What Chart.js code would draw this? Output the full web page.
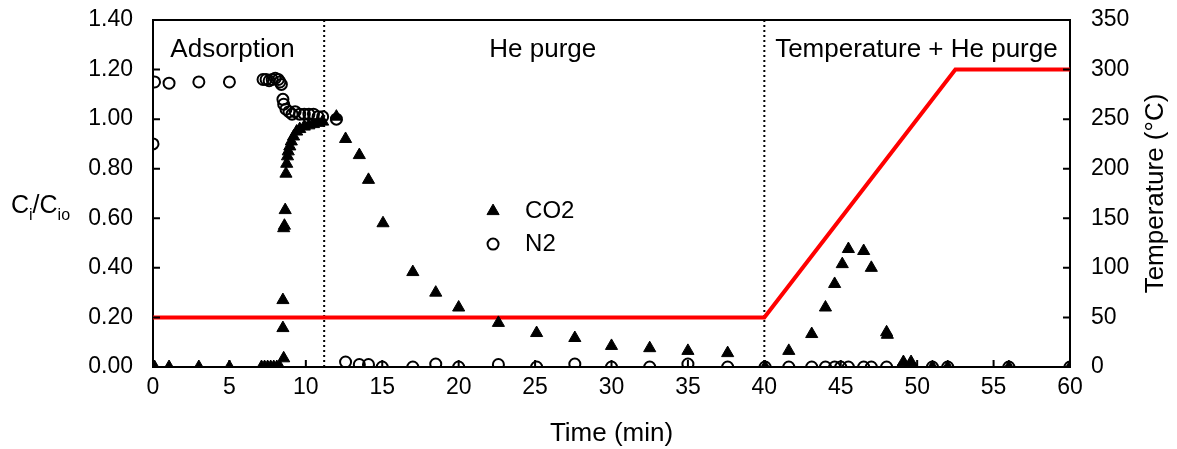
<!DOCTYPE html>
<html>
<head>
<meta charset="utf-8">
<script src="https://cdn.jsdelivr.net/npm/chart.js@4.4.0/dist/chart.umd.min.js"></script>
<style>
  body { margin: 0; background: #fff; }
  #wrap { width: 1177px; height: 449px; }
</style>
</head>
<body>
<div id="wrap"><canvas id="breakthroughChart"></canvas></div>
<script>
// --- Data ---
const co2Time = [0, 0.1, 1.05, 3, 5, 7.1, 7.3, 7.5, 7.7, 7.9, 8.1, 8.3,
  8.55, 8.5, 8.5, 8.55, 8.6, 8.65, 8.7, 8.75, 8.8, 8.85, 8.95, 9.05, 9.2,
  9.4, 9.6, 9.9, 10.2, 10.5, 10.8, 11.1, 12.0, 12.6, 13.5, 14.1, 15.05,
  17.0, 18.5, 20.0, 22.6, 25.1, 27.6, 30.0, 32.5, 35.0, 37.6, 40.05, 41.6,
  43.1, 44.0, 44.6, 45.1, 45.5, 46.5, 47.0, 48.0, 48.05, 49.1, 49.6, 51,
  52, 56, 60];
const co2Values = [0, 0, 0, 0, 0, 0, 0, 0, 0, 0, 0, 0,
  0.035, 0.157, 0.27, 0.56, 0.57, 0.633, 0.78, 0.82, 0.85, 0.87, 0.89, 0.91, 0.93,
  0.95, 0.96, 0.97, 0.975, 0.98, 0.985, 0.99, 1.01, 0.92, 0.855, 0.755, 0.58,
  0.383, 0.30, 0.24, 0.178, 0.137, 0.117, 0.085, 0.076, 0.065, 0.056, 0, 0.065,
  0.133, 0.24, 0.335, 0.415, 0.476, 0.468, 0.40, 0.14, 0.13, 0.02, 0.02, 0,
  0, 0, 0];

const n2Time = [0, 0.1, 1.05, 3, 5, 7.2, 7.4, 7.6, 7.8, 8.0, 8.2, 8.3, 8.4,
  8.5, 8.55, 8.7, 8.9, 9.1, 9.3, 9.6, 9.9, 10.2, 10.5, 10.8, 11.1, 12.0,
  12.6, 13.5, 14.1, 15, 17, 18.5, 20, 22.6, 25.1, 27.6, 30, 32.5, 35, 37.6,
  40.05, 41.6, 43.1, 44.0, 44.6, 45.0, 45.5, 46.5, 47.0, 48.0, 49.1, 49.6,
  51, 52, 56, 60];
const n2Values = [0.90, 1.15, 1.145, 1.15, 1.15, 1.16, 1.16, 1.155, 1.16, 1.165, 1.16, 1.15, 1.14,
  1.08, 1.06, 1.04, 1.03, 1.02, 1.03, 1.02, 1.02, 1.02, 1.02, 1.01, 1.01, 1.00,
  0.02, 0.01, 0.01, 0, 0, 0.012, 0, 0.01, 0, 0.012, 0, 0, 0.012, 0,
  0, 0, 0, 0, 0, 0, 0, 0, 0, 0, 0, 0,
  0, 0, 0, 0];

const tempTime = [0, 40, 52.5, 60];
const tempValues = [50, 50, 300, 300];

const phaseBounds = [11.2, 40];
const phaseNames = ['Adsorption', 'He purge', 'Temperature + He purge'];
const phaseLabelTime = [5.2, 25.5, 49.95];

const FONT = "'Liberation Sans', Arial, sans-serif";

function toPoints(xs, ys) {
  return xs.map((x, i) => ({ x: x, y: ys[i] }));
}

function fixWidth(w) {
  return (s) => {
    s.width = w;
    s.paddingTop = 0;
    s.paddingBottom = 0;
  };
}

// inward tick marks, top frame line, phase labels, legend, side titles
const decorations = {
  id: 'decorations',
  afterDraw(chart) {
    const { ctx, chartArea, scales } = chart;
    const { left, right, top, bottom } = chartArea;
    ctx.save();
    ctx.strokeStyle = '#000';
    ctx.lineWidth = 2;

    ctx.beginPath();
    ctx.moveTo(left - 1, top);
    ctx.lineTo(right + 1, top);
    scales.x.ticks.forEach((t) => {
      const px = scales.x.getPixelForValue(t.value);
      ctx.moveTo(px, bottom);
      ctx.lineTo(px, bottom - 7);
    });
    scales.y.ticks.forEach((t) => {
      const py = scales.y.getPixelForValue(t.value);
      ctx.moveTo(left, py);
      ctx.lineTo(left + 7, py);
    });
    scales.y2.ticks.forEach((t) => {
      const py = scales.y2.getPixelForValue(t.value);
      ctx.moveTo(right, py);
      ctx.lineTo(right - 7, py);
    });
    ctx.stroke();

    // phase labels
    ctx.fillStyle = '#000';
    ctx.font = `26px ${FONT}`;
    ctx.textAlign = 'center';
    ctx.textBaseline = 'middle';
    phaseNames.forEach((name, i) => {
      ctx.fillText(name, scales.x.getPixelForValue(phaseLabelTime[i]),
        scales.y.getPixelForValue(1.279));
    });

    // legend inside the plot
    const lx = scales.x.getPixelForValue(22.25);
    const items = [
      { text: 'CO2', y: 0.629, ds: 1 },
      { text: 'N2', y: 0.496, ds: 0 },
    ];
    ctx.font = `24px ${FONT}`;
    ctx.textAlign = 'left';
    items.forEach((it) => {
      const ds = chart.data.datasets[it.ds];
      const py = scales.y.getPixelForValue(it.y);
      ctx.fillStyle = ds.backgroundColor;
      ctx.strokeStyle = ds.borderColor;
      ctx.lineWidth = ds.borderWidth;
      Chart.helpers.drawPoint(ctx, {
        pointStyle: ds.pointStyle,
        radius: ds.pointRadius,
        rotation: 0,
        borderWidth: ds.borderWidth,
      }, lx, py);
      ctx.fillStyle = '#000';
      ctx.fillText(it.text, lx + 32, py);
    });

    // left title C_i/C_io (horizontal, with subscripts)
    let x = 11;
    const base = 213;
    const parts = [
      ['C', 25, 0], ['i', 16, 7], ['/C', 25, 0], ['io', 16, 7],
    ];
    ctx.textBaseline = 'alphabetic';
    parts.forEach(([txt, size, drop]) => {
      ctx.font = `${size}px ${FONT}`;
      ctx.fillText(txt, x, base + drop);
      x += ctx.measureText(txt).width;
    });

    // right title, reading upward
    ctx.save();
    ctx.translate(1156, (top + bottom) / 2);
    ctx.rotate(-Math.PI / 2);
    ctx.font = `26px ${FONT}`;
    ctx.textAlign = 'center';
    ctx.textBaseline = 'middle';
    ctx.fillText('Temperature (°C)', 0, 0);
    ctx.restore();

    ctx.restore();
  },
};

const phaseLineSets = phaseBounds.map((t) => ({
  data: [{ x: t, y: 0 }, { x: t, y: 1.4 }],
  showLine: true,
  pointRadius: 0,
  borderColor: '#000',
  borderWidth: 2,
  borderDash: [2, 3],
  order: 3,
}));

const ctx = document.getElementById('breakthroughChart').getContext('2d');
new Chart(ctx, {
  type: 'scatter',
  data: {
    datasets: [
      {
        label: 'N2',
        data: toPoints(n2Time, n2Values),
        pointStyle: 'circle',
        pointRadius: 5.5,
        backgroundColor: 'rgba(0,0,0,0)',
        borderColor: '#000',
        borderWidth: 2,
        order: 0,
      },
      {
        label: 'CO2',
        data: toPoints(co2Time, co2Values),
        pointStyle: 'triangle',
        pointRadius: 7,
        backgroundColor: '#000',
        borderColor: '#000',
        borderWidth: 1,
        order: 1,
      },
      {
        label: 'Temperature',
        data: toPoints(tempTime, tempValues),
        yAxisID: 'y2',
        showLine: true,
        pointRadius: 0,
        borderColor: '#ff0000',
        borderWidth: 4,
        order: 2,
      },
      ...phaseLineSets,
    ],
  },
  options: {
    responsive: true,
    maintainAspectRatio: false,
    animation: false,
    layout: { autoPadding: false, padding: { top: 20, left: 0, right: 0, bottom: 0 } },
    plugins: {
      legend: { display: false },
      tooltip: { enabled: false },
    },
    scales: {
      x: {
        type: 'linear',
        min: 0,
        max: 60,
        afterFit: (s) => { s.height = 82; },
        grid: { display: false, drawTicks: false },
        border: { display: true, color: '#000', width: 2 },
        ticks: {
          stepSize: 5,
          padding: 7,
          color: '#000',
          font: { family: FONT, size: 23 },
        },
        title: {
          display: true,
          text: 'Time (min)',
          color: '#000',
          padding: 0,
          font: { family: FONT, size: 26 },
        },
      },
      y: {
        min: 0,
        max: 1.4,
        afterFit: fixWidth(153),
        grid: { display: false, drawTicks: false },
        border: { display: true, color: '#000', width: 2 },
        ticks: {
          stepSize: 0.2,
          padding: 20,
          color: '#000',
          font: { family: FONT, size: 23 },
          callback: (v) => v.toFixed(2),
        },
      },
      y2: {
        position: 'right',
        min: 0,
        max: 350,
        afterFit: fixWidth(107),
        grid: { display: false, drawTicks: false },
        border: { display: true, color: '#000', width: 2 },
        ticks: {
          stepSize: 50,
          padding: 21,
          color: '#000',
          font: { family: FONT, size: 23 },
        },
      },
    },
  },
  plugins: [decorations],
});
</script>
</body>
</html>
